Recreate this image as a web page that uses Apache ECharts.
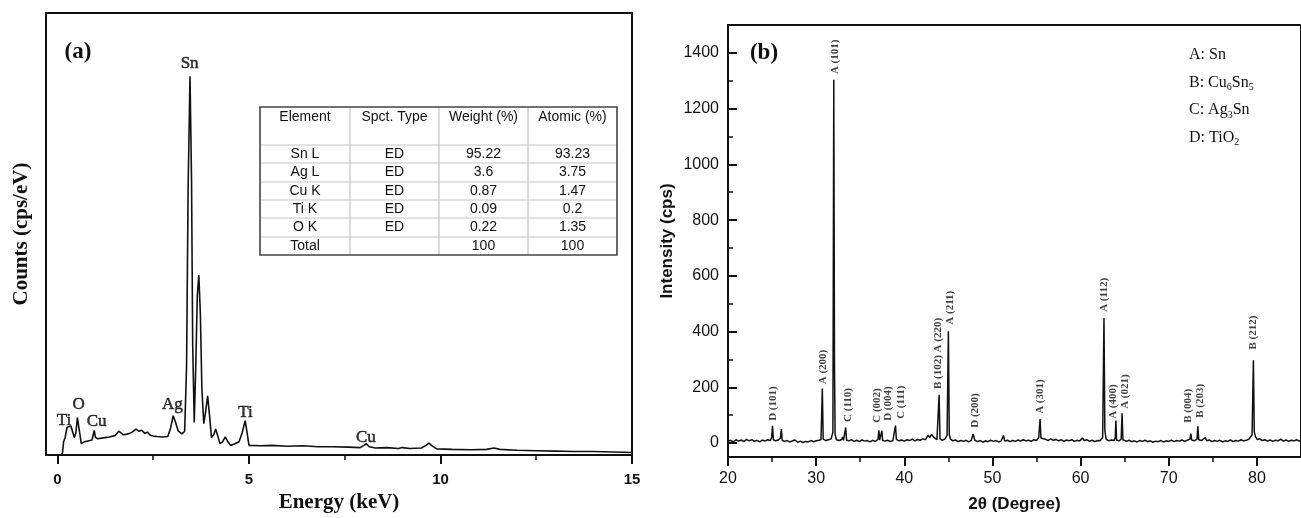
<!DOCTYPE html>
<html>
<head>
<meta charset="utf-8">
<script src="https://cdn.jsdelivr.net/npm/echarts@6/dist/echarts.min.js"></script>
<style>
  html, body { margin: 0; padding: 0; background: #fff; }
  #main { width: 1301px; height: 518px; }
</style>
</head>
<body>
<div id="main"></div>
<script>
// (a) EDS spectrum: [energy keV, counts (relative)]
var edsSpectrum = [
  [0.1, 0], [0.13, 0.5], [0.16, 3], [0.2, 4], [0.25, 6.3], [0.3, 6], [0.35, 6.6], [0.4, 6.2],
  [0.44, 4], [0.48, 5], [0.52, 8.5], [0.55, 8.9], [0.58, 5], [0.62, 2.6], [0.7, 3], [0.8, 3.2],
  [0.9, 3.4], [0.93, 4.5], [0.96, 5.6], [0.99, 4], [1.05, 3.7], [1.2, 3.9], [1.35, 4.1], [1.5, 4.4],
  [1.6, 5.4], [1.65, 5.3], [1.72, 4.6], [1.85, 4.8], [1.95, 5.2], [2.05, 5.9], [2.12, 5.4], [2.2, 5.6],
  [2.28, 4.9], [2.35, 5.2], [2.42, 4.5], [2.5, 4.3], [2.6, 4.2], [2.75, 4.1], [2.88, 4.2], [2.95, 6],
  [3.02, 8.9], [3.08, 7.5], [3.15, 5.5], [3.25, 4.8], [3.32, 5.4], [3.37, 20], [3.41, 60], [3.46, 85.7],
  [3.5, 62], [3.53, 25], [3.57, 7.4], [3.61, 20], [3.65, 36], [3.69, 40.7], [3.73, 32], [3.77, 15],
  [3.82, 7.1], [3.87, 10], [3.92, 13.4], [3.97, 9], [4.02, 4], [4.08, 4.6], [4.13, 5.9], [4.18, 4.5],
  [4.24, 2.6], [4.31, 3], [4.38, 4.1], [4.45, 3], [4.52, 2.2], [4.62, 2.5], [4.74, 3], [4.82, 5],
  [4.9, 7.8], [4.96, 4.5], [5.0, 2.2], [5.3, 2.1], [5.6, 2.2], [6.0, 2.0], [6.4, 2.1], [6.8, 1.9],
  [7.2, 1.9], [7.6, 1.8], [7.9, 1.7], [8.0, 2.2], [8.06, 2.6], [8.14, 1.9], [8.3, 1.6], [8.6, 1.7],
  [8.9, 1.5], [9.0, 1.7], [9.2, 1.5], [9.5, 1.6], [9.62, 2.2], [9.7, 2.7], [9.78, 2.1], [9.9, 1.4],
  [10.3, 1.3], [10.8, 1.2], [11.2, 1.3], [11.4, 1.6], [11.55, 1.3], [12, 1.1], [12.5, 1.0], [13, 0.9],
  [13.5, 0.8], [14, 0.8], [14.5, 0.7], [15, 0.6]
];
var edsPeakLabels = [
  [0.17, 7.6, 'Ti'], [0.55, 11.4, 'O'], [1.02, 7.4, 'Cu'], [3.0, 11.4, 'Ag'],
  [3.45, 88.4, 'Sn'], [4.91, 9.6, 'Ti'], [8.05, 3.8, 'Cu']
];
var edsMajorTicks = [0, 5, 10, 15];
var edsMinorTicks = [2.5, 7.5, 12.5];

// inset table
var tableHeader = ['Element', 'Spct. Type', 'Weight (%)', 'Atomic (%)'];
var tableRows = [
  ['Sn L', 'ED', '95.22', '93.23'],
  ['Ag L', 'ED', '3.6', '3.75'],
  ['Cu K', 'ED', '0.87', '1.47'],
  ['Ti K', 'ED', '0.09', '0.2'],
  ['O K', 'ED', '0.22', '1.35'],
  ['Total', '', '100', '100']
];

// (b) XRD pattern: [2theta, intensity cps]
var xrdPattern = [
  [20, 6], [20.3, 10], [20.6, 4], [20.9, 12], [21.2, 7], [21.5, 11], [21.8, 5], [22.1, 13], [22.4, 8],
  [22.7, 12], [23, 6], [23.3, 10], [23.6, 4], [23.9, 11], [24.2, 7], [24.5, 12], [24.8, 9], [24.95, 20],
  [25.05, 62], [25.15, 12], [25.4, 8], [25.7, 11], [25.95, 18], [26.05, 50], [26.15, 10], [26.4, 6],
  [26.7, 9], [27, 4], [27.3, 8], [27.6, 11], [27.9, 3], [28.2, 7], [28.5, 2], [28.8, 6], [29.1, 4],
  [29.4, 9], [29.7, 5], [30, 8], [30.3, 10], [30.55, 12], [30.7, 196], [30.8, 14], [31.1, 9], [31.4, 12],
  [31.7, 15], [31.9, 40], [32.0, 1304], [32.08, 280], [32.15, 30], [32.3, 12], [32.6, 9], [32.9, 13],
  [33.0, 22], [33.1, 10], [33.25, 14], [33.35, 56], [33.45, 11], [33.7, 8], [34, 12], [34.3, 6],
  [34.6, 10], [34.9, 5], [35.2, 11], [35.5, 7], [35.8, 9], [36.1, 4], [36.4, 10], [36.7, 6], [37.0, 12],
  [37.12, 46], [37.2, 11], [37.38, 14], [37.46, 44], [37.54, 10], [37.8, 7], [38.1, 10], [38.4, 5],
  [38.7, 9], [38.9, 12], [39.0, 63], [39.1, 13], [39.4, 8], [39.7, 11], [40, 7], [40.3, 12], [40.6, 9],
  [40.9, 14], [41.2, 8], [41.5, 13], [41.8, 10], [42.1, 15], [42.4, 12], [42.7, 28], [42.9, 20],
  [43.1, 31], [43.3, 22], [43.5, 16], [43.7, 12], [43.85, 18], [43.95, 173], [44.05, 15], [44.3, 10],
  [44.6, 14], [44.85, 28], [45.0, 401], [45.1, 30], [45.25, 14], [45.5, 8], [45.8, 11], [46.1, 5],
  [46.4, 9], [46.7, 6], [47, 10], [47.3, 4], [47.6, 10], [47.8, 33], [48.0, 10], [48.3, 5], [48.6, 9],
  [48.9, 3], [49.2, 8], [49.5, 5], [49.8, 10], [50.1, 6], [50.4, 9], [50.7, 4], [51.0, 8], [51.25, 27],
  [51.4, 7], [51.7, 10], [52, 5], [52.3, 9], [52.6, 6], [52.9, 11], [53.2, 7], [53.5, 12], [53.8, 8],
  [54.1, 10], [54.4, 6], [54.7, 12], [55.0, 9], [55.25, 20], [55.4, 86], [55.5, 18], [55.7, 11],
  [56, 14], [56.3, 9], [56.6, 15], [56.9, 10], [57.2, 13], [57.5, 8], [57.8, 12], [58.1, 6], [58.4, 11],
  [58.7, 8], [59, 12], [59.3, 6], [59.6, 10], [59.9, 7], [60.2, 18], [60.4, 9], [60.7, 12], [61, 6],
  [61.3, 10], [61.6, 5], [61.9, 9], [62.2, 8], [62.5, 20], [62.65, 449], [62.75, 45], [62.9, 14],
  [63.2, 8], [63.5, 11], [63.8, 9], [63.93, 20], [64.0, 81], [64.08, 11], [64.35, 8], [64.6, 14],
  [64.7, 107], [64.8, 12], [65.0, 9], [65.2, 6], [65.5, 10], [65.8, 5], [66.1, 8], [66.4, 4], [66.7, 9],
  [67, 6], [67.3, 10], [67.6, 5], [67.9, 8], [68.2, 3], [68.5, 7], [68.8, 5], [69.1, 9], [69.4, 4],
  [69.7, 8], [70, 6], [70.3, 10], [70.6, 5], [70.9, 9], [71.2, 7], [71.5, 11], [71.8, 6], [72.1, 10],
  [72.4, 14], [72.5, 34], [72.6, 11], [72.9, 8], [73.2, 14], [73.3, 60], [73.4, 12], [73.7, 9],
  [73.9, 11], [74.15, 20], [74.3, 8], [74.6, 11], [74.9, 5], [75.2, 9], [75.5, 6], [75.8, 10], [76.1, 4],
  [76.4, 8], [76.7, 6], [77, 11], [77.3, 5], [77.6, 9], [77.9, 7], [78.2, 12], [78.5, 8], [78.8, 10],
  [79.1, 14], [79.45, 30], [79.6, 297], [79.7, 40], [79.85, 22], [80.05, 12], [80.3, 16], [80.6, 9],
  [80.9, 12], [81.2, 7], [81.5, 11], [81.8, 6], [82.1, 10], [82.4, 8], [82.7, 14], [83.0, 7], [83.3, 11],
  [83.6, 6], [83.9, 10], [84.2, 8], [84.5, 12], [84.8, 7], [85, 9]
];
// peak annotations: [2theta, label base intensity, text]
var xrdPeakLabels = [
  [25.1, 78, 'D (101)'], [30.8, 209, 'A (200)'], [32.1, 1322, 'A (101)'], [33.6, 74, 'C (110)'],
  [36.9, 71, 'C (002)'], [38.2, 78, 'D (004)'], [39.6, 85, 'C (111)'], [43.85, 192, 'B (102) A (220)'],
  [45.2, 423, 'A (211)'], [48.0, 53, 'D (200)'], [55.4, 103, 'A (301)'], [62.7, 469, 'A (112)'],
  [63.7, 85, 'A (400)'], [65.0, 121, 'A (021)'], [72.2, 71, 'B (004)'], [73.6, 89, 'B (203)'],
  [79.6, 334, 'B (212)']
];
var xrdYMajor = [0, 200, 400, 600, 800, 1000, 1200, 1400];
var xrdYMinor = [100, 300, 500, 700, 900, 1100, 1300];
var xrdXMajor = [20, 30, 40, 50, 60, 70, 80];
var xrdXMinor = [25, 35, 45, 55, 65, 75];
var phaseLegend = [
  'A: Sn',
  'B: Cu{sub|6}Sn{sub|5}',
  'C: Ag{sub|3}Sn',
  'D: TiO{sub|2}'
];

var SERIF = '"Liberation Serif", "Times New Roman", serif';
var SANS = '"Liberation Sans", Arial, sans-serif';

var myChart = echarts.init(document.getElementById('main'));

// 表格用 graphic 画
var colEdges = [260, 350, 439, 528, 617];
var rowEdges = [107, 145, 163, 182, 200, 218, 237, 255];
var tableEls = [];
tableEls.push({
  type: 'rect', shape: { x: 260, y: 107, width: 357, height: 148 },
  style: { fill: '#fff', stroke: 'none' }, z: 10
});
for (var i = 1; i < colEdges.length - 1; i++) {
  tableEls.push({
    type: 'line', shape: { x1: colEdges[i], y1: 107, x2: colEdges[i], y2: 255 },
    style: { stroke: '#b8b8b8', lineWidth: 1 }, z: 11
  });
}
for (var j = 1; j < rowEdges.length - 1; j++) {
  tableEls.push({
    type: 'line', shape: { x1: 260, y1: rowEdges[j], x2: 617, y2: rowEdges[j] },
    style: { stroke: '#c4c4c4', lineWidth: 1 }, z: 11
  });
}
tableEls.push({
  type: 'rect', shape: { x: 260, y: 107, width: 357, height: 148 },
  style: { fill: 'none', stroke: '#444', lineWidth: 1.6 }, z: 12
});
tableHeader.forEach(function (h, c) {
  tableEls.push({
    type: 'text', z: 13,
    style: {
      text: h, x: (colEdges[c] + colEdges[c + 1]) / 2, y: 117,
      font: '14px ' + SANS, fill: '#111',
      align: 'center', verticalAlign: 'middle', textAlign: 'center', textVerticalAlign: 'middle'
    }
  });
});
tableRows.forEach(function (row, r) {
  row.forEach(function (cell, c) {
    tableEls.push({
      type: 'text', z: 13,
      style: {
        text: cell, x: (colEdges[c] + colEdges[c + 1]) / 2, y: (rowEdges[r + 1] + rowEdges[r + 2]) / 2,
        font: '14px ' + SANS, fill: '#111',
        align: 'center', verticalAlign: 'middle', textAlign: 'center', textVerticalAlign: 'middle'
      }
    });
  });
});

// 面板标记和物相图例
var textEls = [
  { type: 'text', z: 13, style: { text: '(a)', x: 78, y: 52, font: 'bold 23px ' + SERIF, fill: '#111', align: 'center', verticalAlign: 'middle', textAlign: 'center', textVerticalAlign: 'middle' } },
  { type: 'text', z: 13, style: { text: '(b)', x: 764, y: 53, font: 'bold 23px ' + SERIF, fill: '#111', align: 'center', verticalAlign: 'middle', textAlign: 'center', textVerticalAlign: 'middle' } }
];
phaseLegend.forEach(function (t, k) {
  textEls.push({
    type: 'text', z: 13,
    style: {
      text: t, x: 1189, y: 55 + k * 27.5, font: '16px ' + SERIF, fill: '#111',
      align: 'left', verticalAlign: 'middle', textAlign: 'left', textVerticalAlign: 'middle',
      rich: { sub: { fontSize: 10, fontFamily: SERIF, padding: [10, 0, 0, 0], fill: '#111' } }
    }
  });
});

function plain(v) { return String(v); }

var option = {
  backgroundColor: '#fff',
  animation: false,
  grid: [
    { left: 46, top: 13, width: 586, height: 449, show: true, borderColor: '#111', borderWidth: 2, backgroundColor: 'transparent' },
    { left: 728, top: 25, width: 581, height: 436, show: true, borderColor: '#111', borderWidth: 2, backgroundColor: 'transparent' }
  ],
  xAxis: [
    {
      gridIndex: 0, type: 'value', min: -0.3, max: 15, position: 'bottom',
      axisLine: { show: true, onZero: false, lineStyle: { color: '#111', width: 2 } },
      axisTick: { show: true, inside: false, length: 9, customValues: edsMajorTicks, lineStyle: { color: '#111', width: 2 } },
      axisLabel: { customValues: edsMajorTicks, formatter: plain, fontFamily: SANS, fontWeight: 'bold', fontSize: 15, color: '#111', margin: 17 },
      splitLine: { show: false },
      name: 'Energy (keV)', nameLocation: 'middle', nameGap: 34,
      nameTextStyle: { fontFamily: SERIF, fontWeight: 'bold', fontSize: 21, color: '#111' }
    },
    {
      gridIndex: 0, type: 'value', min: -0.3, max: 15, position: 'bottom',
      axisLine: { show: false, onZero: false },
      axisTick: { show: true, inside: false, length: 5, customValues: edsMinorTicks, lineStyle: { color: '#111', width: 1.5 } },
      axisLabel: { show: false },
      splitLine: { show: false }
    },
    {
      gridIndex: 1, type: 'value', min: 20, max: 85, position: 'bottom',
      axisLine: { show: true, onZero: false, lineStyle: { color: '#111', width: 2 } },
      axisTick: { show: true, inside: false, length: 9, customValues: xrdXMajor, lineStyle: { color: '#111', width: 2 } },
      axisLabel: { customValues: xrdXMajor, formatter: plain, fontFamily: SANS, fontSize: 16, color: '#111', margin: 14 },
      splitLine: { show: false },
      name: '2θ (Degree)', nameLocation: 'middle', nameGap: 39,
      nameTextStyle: { fontFamily: SANS, fontWeight: 'bold', fontSize: 17, color: '#111' }
    },
    {
      gridIndex: 1, type: 'value', min: 20, max: 85, position: 'bottom',
      axisLine: { show: false, onZero: false },
      axisTick: { show: true, inside: false, length: 5, customValues: xrdXMinor, lineStyle: { color: '#111', width: 1.5 } },
      axisLabel: { show: false },
      splitLine: { show: false }
    }
  ],
  yAxis: [
    {
      gridIndex: 0, type: 'value', min: 0, max: 100, position: 'left',
      axisLine: { show: true, onZero: false, lineStyle: { color: '#111', width: 2 } },
      axisTick: { show: false }, axisLabel: { show: false }, splitLine: { show: false },
      name: 'Counts (cps/eV)', nameLocation: 'middle', nameGap: 14,
      nameTextStyle: { fontFamily: SERIF, fontWeight: 'bold', fontSize: 21, color: '#111' }
    },
    {
      gridIndex: 1, type: 'value', min: -50, max: 1500, position: 'left',
      axisLine: { show: true, onZero: false, lineStyle: { color: '#111', width: 2 } },
      axisTick: { show: true, inside: true, length: 9, customValues: xrdYMajor, lineStyle: { color: '#111', width: 2 } },
      axisLabel: { customValues: xrdYMajor, formatter: plain, fontFamily: SANS, fontSize: 16, color: '#111', margin: 9 },
      splitLine: { show: false },
      name: 'Intensity (cps)', nameLocation: 'middle', nameGap: 52,
      nameTextStyle: { fontFamily: SANS, fontWeight: 'bold', fontSize: 17, color: '#111' }
    },
    {
      gridIndex: 1, type: 'value', min: -50, max: 1500, position: 'left',
      axisLine: { show: false, onZero: false },
      axisTick: { show: true, inside: true, length: 5, customValues: xrdYMinor, lineStyle: { color: '#111', width: 1.5 } },
      axisLabel: { show: false }, splitLine: { show: false }
    }
  ],
  series: [
    {
      type: 'line', xAxisIndex: 0, yAxisIndex: 0, data: edsSpectrum,
      showSymbol: false, symbol: 'none', lineStyle: { color: '#111', width: 1.6 }, z: 5
    },
    {
      type: 'scatter', xAxisIndex: 0, yAxisIndex: 0, data: edsPeakLabels,
      symbolSize: 1, itemStyle: { color: 'transparent' }, silent: true, z: 6,
      labelLayout: { hideOverlap: false },
      label: {
        show: true, position: 'top', distance: 0, align: 'center', verticalAlign: 'middle',
        color: '#000', textBorderColor: '#000', textBorderWidth: 0.5, fontFamily: SERIF, fontSize: 17,
        formatter: function (p) { return p.value[2]; }
      }
    },
    {
      type: 'line', xAxisIndex: 2, yAxisIndex: 1, data: xrdPattern,
      showSymbol: false, symbol: 'none', lineStyle: { color: '#111', width: 1.5 }, z: 5
    },
    {
      type: 'scatter', xAxisIndex: 2, yAxisIndex: 1, data: xrdPeakLabels,
      symbolSize: 1, itemStyle: { color: 'transparent' }, silent: true, z: 6,
      labelLayout: { hideOverlap: false },
      label: {
        show: true, position: 'top', distance: 0, rotate: 90, align: 'left', verticalAlign: 'middle',
        color: '#111', fontFamily: SERIF, fontWeight: 'bold', fontSize: 11,
        formatter: function (p) { return p.value[2]; }
      }
    }
  ],
  graphic: tableEls.concat(textEls)
};

myChart.setOption(option);
</script>
</body>
</html>
